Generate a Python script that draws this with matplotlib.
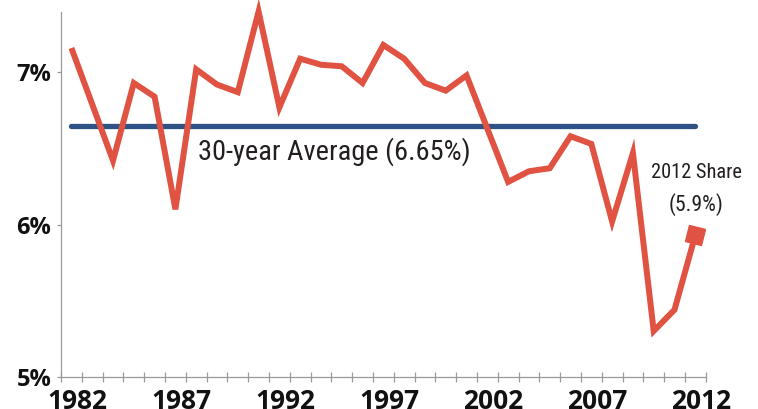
import matplotlib
matplotlib.use("Agg")
import matplotlib.pyplot as plt
from matplotlib import font_manager
from matplotlib.font_manager import FontProperties
from matplotlib.markers import MarkerStyle
from matplotlib.transforms import Affine2D, ScaledTranslation
import numpy as np

years = list(range(1982, 2013))
share = [7.16, 6.79, 6.42, 6.93, 6.84, 6.10, 7.02, 6.92, 6.87, 7.40,
         6.77, 7.09, 7.05, 7.04, 6.93, 7.18, 7.09, 6.93, 6.88, 6.98,
         6.63, 6.28, 6.35, 6.37, 6.58, 6.53, 6.02, 6.47, 5.30, 5.44, 5.93]
average = 6.65
label_years = [1982, 1987, 1992, 1997, 2002, 2007, 2012]
y_ticks = [5, 6, 7]

# look for a narrow face for the notes, like the condensed one in the source
names = {f.name for f in font_manager.fontManager.ttflist}
narrow, stretch = "Roboto", "normal"
for cand in ["Liberation Sans Narrow", "Roboto Condensed", "Open Sans Condensed",
             "DejaVu Sans Condensed"]:
    if cand in names:
        narrow, stretch = cand, "normal"
        break
else:
    f = font_manager.findfont(FontProperties(family="DejaVu Sans", stretch="condensed"))
    if "Condensed" in f:
        narrow, stretch = "DejaVu Sans", "condensed"

red = "#e05241"
blue = "#2e5186"
grey = "#9a9a9a"
ink = "#231f20"

fig = plt.figure(figsize=(7.58, 4.09), dpi=100)
ax = fig.add_axes([0.0805, 0.079, 0.8505, 0.891])

ax.set_xlim(1981.5, 2012.5)
ax.set_ylim(5, 7.395)

ax.plot([years[0], years[-1]], [average, average], color=blue, lw=3.8,
        solid_capstyle="round", zorder=2)
ax.plot(years, share, color=red, lw=4.3, solid_joinstyle="miter",
        solid_capstyle="butt", zorder=3, clip_on=False)

# square head at the end of the line, turned along the last segment
p0 = ax.transData.transform((years[-2], share[-2]))
p1 = ax.transData.transform((years[-1], share[-1]))
ang = np.degrees(np.arctan2(p1[1] - p0[1], p1[0] - p0[0]))
head = MarkerStyle("s", transform=Affine2D().rotate_deg(ang))
ax.plot(years[-1], share[-1], marker=head, ms=12, color=red, zorder=4,
        clip_on=False)

t1 = ax.text(1988.1, 6.48, "30-year Average (6.65%)", fontsize=22,
             family=narrow, stretch=stretch, color=ink, va="center", ha="left")
t2 = ax.text(2012.05, 6.345, "2012 Share", fontsize=15, family=narrow,
             stretch=stretch, color=ink, va="center", ha="center")
t3 = ax.text(2012.05, 6.13, "(5.9%)", fontsize=15, family=narrow,
             stretch=stretch, color=ink, va="center", ha="center")

for side in ["top", "right"]:
    ax.spines[side].set_visible(False)
for side in ["left", "bottom"]:
    ax.spines[side].set_color(grey)
    ax.spines[side].set_linewidth(0.9)

ax.set_yticks(y_ticks)
ax.set_yticklabels([f"{v}%" for v in y_ticks])
ax.tick_params(axis="y", direction="out", length=3, width=0.9, color=grey,
               pad=4, labelsize=17)

ax.set_xticks(label_years)
ax.set_xticklabels([str(y) for y in label_years])
ax.set_xticks(np.arange(1981.5, 2013, 1), minor=True)
ax.tick_params(axis="x", which="major", length=0, pad=8, labelsize=19)
ax.tick_params(axis="x", which="minor", direction="inout", length=7,
               width=0.9, color=grey)

shift = ScaledTranslation(6 / 100, 0, fig.dpi_scale_trans)
for lab in ax.get_xticklabels():
    lab.set_transform(lab.get_transform() + shift)
for lab in ax.get_xticklabels() + ax.get_yticklabels():
    lab.set_fontfamily("Open Sans")
    lab.set_fontweight("bold")
    lab.set_color("#111111")

# the notes in the source are set narrow: fit them to its widths
fig.canvas.draw()
r = fig.canvas.get_renderer()
for t, w in [(t1, 273), (t2, 91), (t3, 55)]:
    bw = t.get_window_extent(r).width
    t.set_fontsize(t.get_fontsize() * w / bw)

fig.savefig("out.png", dpi=100)
